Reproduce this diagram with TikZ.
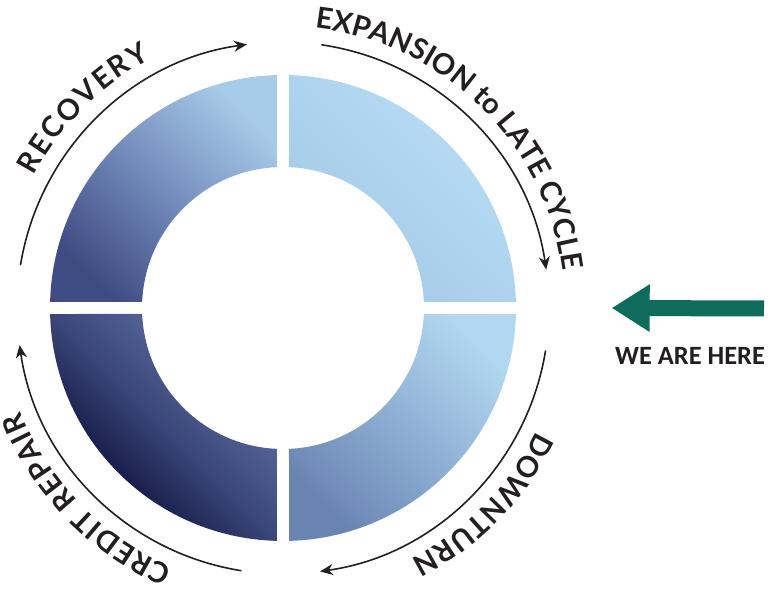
\documentclass[tikz,border=0pt]{standalone}
\usepackage{fontspec}
\usetikzlibrary{arrows.meta,decorations.text}
\newfontfamily\arcfont{Lato}
\newfontfamily\herefont{Carlito}
\definecolor{ink}{HTML}{231F20}
\definecolor{heregreen}{HTML}{0F6B5B}
% quadrant colours: low (bottom left), mid, high (top right)
\definecolor{qalo}{HTML}{A2C8E6}\definecolor{qamid}{HTML}{AED3EE}\definecolor{qahi}{HTML}{B9DEF4}
\definecolor{qblo}{HTML}{404C84}\definecolor{qbmid}{HTML}{738CBC}\definecolor{qbhi}{HTML}{A7CCE9}
\definecolor{qclo}{HTML}{00002A}\definecolor{qcmid}{HTML}{3A4678}\definecolor{qchi}{HTML}{6478AC}
\definecolor{qdlo}{HTML}{6A84B2}\definecolor{qdmid}{HTML}{8EAFD4}\definecolor{qdhi}{HTML}{B1D8F0}
\tikzset{
  cyclearrow/.style={ink, line width=0.8pt, -{Stealth[length=6.5pt, width=5.5pt]}},
  phase/.style={decorate, decoration={text along path, text align=fit to path,
    text color=ink, text={|\arcfont\bfseries\fontsize{14.5}{14.5}\selectfont|#1}}}
}

\begin{document}
\begin{tikzpicture}[x=0.5pt, y=0.5pt]
\useasboundingbox (-283,-284) rectangle (494,308);

% Ring (four quadrants, each with its own shading)
\foreach \a/\lo/\mi/\hi in {0/qalo/qamid/qahi, 90/qblo/qbmid/qbhi, 180/qclo/qcmid/qchi, 270/qdlo/qdmid/qdhi}
  \shade[bottom color=\lo, top color=\hi, middle color=\mi, shading angle=-45]
    (\a+1.48:233) arc[start angle=\a+1.48, end angle=\a+88.52, radius=233]
    -- (\a+87.56:141) arc[start angle=\a+87.56, end angle=\a+2.44, radius=141] -- cycle;

% Cycle arrows
\draw[cyclearrow] (170.7:266) arc[start angle=170.7, end angle=97.8, radius=266];
\draw[cyclearrow] (81.7:266) arc[start angle=81.7, end angle=8.3, radius=266];
\draw[cyclearrow] (-9.2:266) arc[start angle=-9.2, end angle=-82, radius=266];
\draw[cyclearrow] (-99:266) arc[start angle=-99, end angle=-172, radius=266];

% Phase labels
\path[phase=RECOVERY] (152:282) arc[start angle=152, end angle=118, radius=282];
\path[phase={EXPANSION to LATE CYCLE}] (83.5:282) arc[start angle=83.5, end angle=7.5, radius=282];
\path[phase=DOWNTURN] (-26:282) arc[start angle=-26, end angle=-63, radius=282];
\path[phase={CREDIT REPAIR}] (-113:282) arc[start angle=-113, end angle=-158.5, radius=282];

% We are here
\coordinate (tail) at (481,-0.5);
\coordinate (tip) at (328.7,0);
\draw[heregreen, line width=8pt, -{Triangle[length=19pt, width=22.5pt]}] (tail) -- (tip);
\node[font=\herefont\bfseries\fontsize{13.2}{13.2}\selectfont, text=ink] (here) at (407,-48) {WE ARE HERE};

\end{tikzpicture}
\end{document}
